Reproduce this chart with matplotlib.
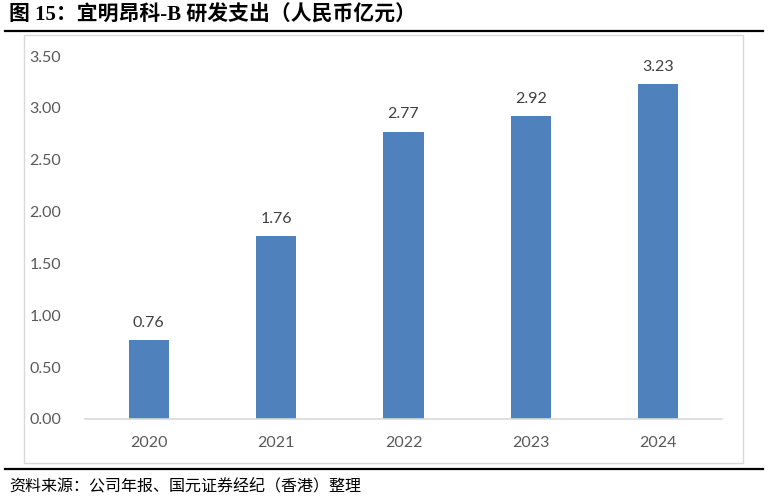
import matplotlib
matplotlib.use('Agg')
import matplotlib.pyplot as plt
from matplotlib.patches import Rectangle
from matplotlib.lines import Line2D

# data
years = ['2020', '2021', '2022', '2023', '2024']
rd_spend = [0.76, 1.76, 2.77, 2.92, 3.23]
y_ticks = [0.0, 0.5, 1.0, 1.5, 2.0, 2.5, 3.0, 3.5]

title_text = '图 15：宜明昂科-B 研发支出（人民币亿元）'
source_text = '资料来源：公司年报、国元证券经纪（香港）整理'

plt.rcParams['font.family'] = ['Lato', 'Noto Sans CJK SC', 'DejaVu Sans']

fig = plt.figure(figsize=(7.68, 4.99), dpi=100)
W, H = 768, 499

def fx(px):
    return px / W

def fy(py):
    return 1 - py / H

# outer light grey chart frame
fig.patches.append(Rectangle((fx(24), fy(463)), fx(743) - fx(24), fy(35) - fy(463),
                             transform=fig.transFigure, fill=False,
                             edgecolor='#D9D9D9', linewidth=1.0))

# black rules above and below the chart
fig.lines.append(Line2D([fx(5), fx(763)], [fy(31), fy(31)], transform=fig.transFigure,
                        color='black', linewidth=1.6))
fig.lines.append(Line2D([fx(5), fx(763)], [fy(469), fy(469)], transform=fig.transFigure,
                        color='black', linewidth=1.6))

fig.text(fx(9), fy(15), title_text, fontsize=15, fontweight='bold',
         family=['Liberation Serif', 'Noto Sans CJK SC'], va='center', ha='left')
fig.text(fx(9), fy(486), source_text, fontsize=11.5, style='italic',
         family=['Noto Sans CJK SC'], va='center', ha='left', color='black')

ax = fig.add_axes([fx(85), fy(419), fx(722) - fx(85), fy(56) - fy(419)])
x = range(len(years))
bars = ax.bar(x, rd_spend, width=0.315, color='#4F81BD', zorder=2)
for xi, v in zip(x, rd_spend):
    ax.text(xi, v + 0.1, f'{v:.2f}', ha='center', va='bottom', fontsize=11.5, color='#404040')

ax.set_xlim(-0.5, len(years) - 0.5)
ax.set_ylim(0, 3.5)
ax.set_yticks(y_ticks)
ax.set_yticklabels([f'{t:.2f}' for t in y_ticks])
ax.set_xticks(list(x))
ax.set_xticklabels(years)
ax.tick_params(axis='both', length=0, labelsize=11.5, labelcolor='#595959')
ax.tick_params(axis='y', pad=17)
ax.tick_params(axis='x', pad=12)
for side in ['top', 'right', 'left']:
    ax.spines[side].set_visible(False)
ax.spines['bottom'].set_color('#D9D9D9')
ax.spines['bottom'].set_linewidth(1.2)
ax.patch.set_alpha(0)

fig.savefig('out.png', dpi=100)
